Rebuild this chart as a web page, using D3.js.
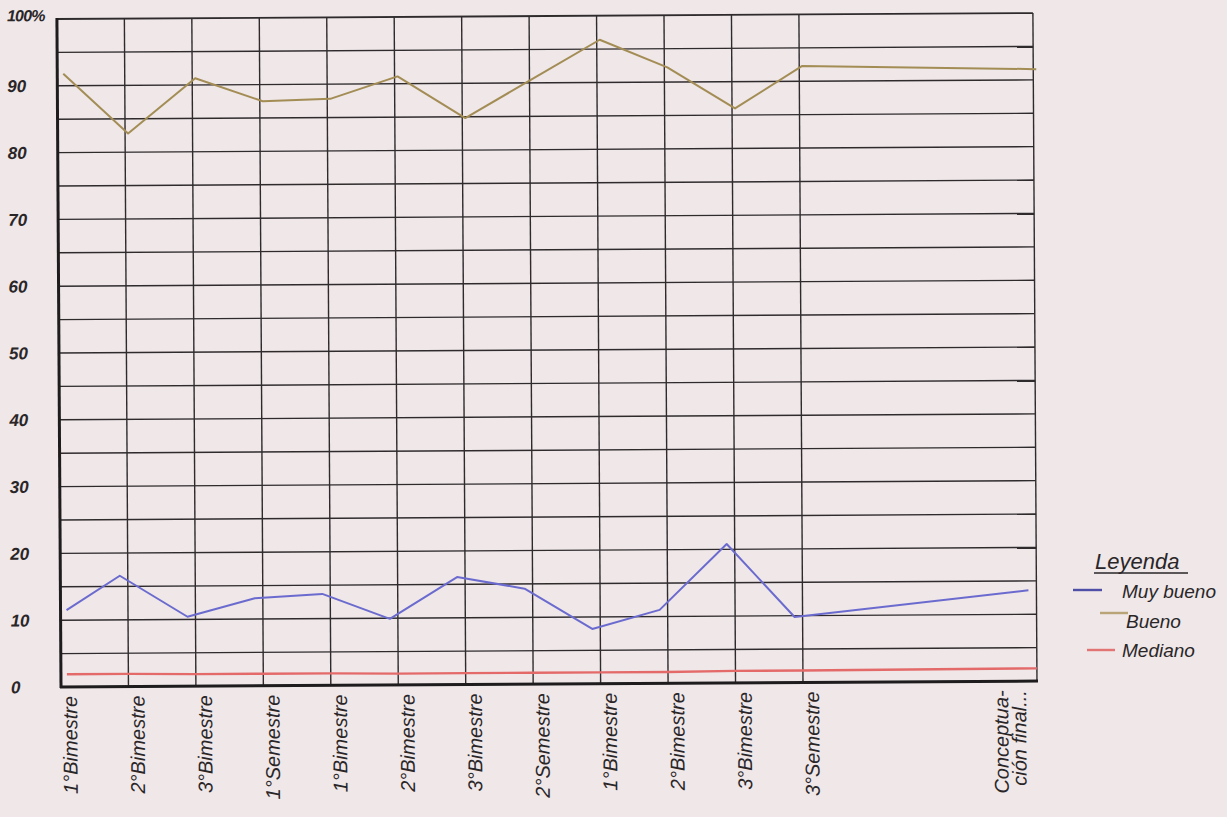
<!DOCTYPE html>
<html><head><meta charset="utf-8">
<script src="https://cdn.jsdelivr.net/npm/d3@7"></script>
<style>body{margin:0;background:#efe7e8;} svg{display:block}</style>
</head><body><svg id="c" width="1227" height="817"></svg>
<script>
// ---- data ----
const categories = ["1°Bimestre","2°Bimestre","3°Bimestre","1°Semestre","1°Bimestre","2°Bimestre","3°Bimestre","2°Semestre","1°Bimestre","2°Bimestre","3°Bimestre","3°Semestre","Conceptua-|ción final..."];
const muyBueno = [11.5,16.6,10.4,13.1,13.7,9.9,16.1,14.3,8.2,11.0,20.8,9.8,13.6];
const bueno    = [91.8,82.8,91.0,87.5,87.8,91.1,84.8,90.6,96.4,92.2,86.0,92.3,91.6];
const mediano  = [1.9,1.9,1.8,1.8,1.8,1.7,1.7,1.7,1.7,1.7,1.8,1.8,1.9];
const yTicks = [0,10,20,30,40,50,60,70,80,90,100];
const yTickLabels = ["0","10","20","30","40","50","60","70","80","90","100%"];
const gridStep = 5;
const seriesNames = ["Muy bueno","Bueno","Mediano"];
const seriesColors = ["#6b6bcf","#a38d55","#e46a6a"];
const legendColors = ["#4f4fa8","#b9a477","#e37474"];
const legendTitle = "Leyenda";

// ---- layout ----
const L = 61, R = 1037, T = 19, B = 687;
const nReg = 12;
const colW = (803 - 61) / 11;
const lastPos = (R - L) / colW;
const x = d3.scaleLinear().domain([0, lastPos]).range([L, R]);
const y = d3.scaleLinear().domain([0, 100]).range([B, T]);
const posOf = i => i < nReg ? i : lastPos;

const svg = d3.select("#c");
const font = "'Liberation Sans', sans-serif";
const g = svg.append("g").attr("transform", `rotate(-0.35, ${L}, ${B})`);

// grid
const gridVals = d3.range(0, 100 + gridStep, gridStep);
g.append("g").selectAll("line").data(gridVals).join("line")
  .attr("x1", L).attr("x2", R).attr("y1", d => y(d)).attr("y2", d => y(d))
  .attr("stroke", "#2f2b2d").attr("stroke-width", d => d === 100 ? 1.8 : 1.4);
const vPos = d3.range(1, nReg).concat([lastPos]);
g.append("g").selectAll("line").data(vPos).join("line")
  .attr("x1", d => x(d)).attr("x2", d => x(d)).attr("y1", T).attr("y2", B)
  .attr("stroke", "#2f2b2d").attr("stroke-width", 1.4);
// axes
g.append("line").attr("x1", L).attr("x2", L).attr("y1", T - 1).attr("y2", B + 1)
  .attr("stroke", "#1e1c1d").attr("stroke-width", 3);
g.append("line").attr("x1", L - 1).attr("x2", R + 1).attr("y1", B).attr("y2", B)
  .attr("stroke", "#1e1c1d").attr("stroke-width", 3);

// y tick labels
g.append("g").selectAll("text").data(yTicks).join("text")
  .attr("x", 11).attr("y", (d, i) => y(d) + (d === 100 ? 2 : 6))
  .attr("font-family", font).attr("font-style", "italic").attr("font-weight", "bold")
  .attr("font-size", d => d === 100 ? 16 : 17).attr("fill", "#2a2628")
  .attr("letter-spacing", d => d === 100 ? -0.8 : 0)
  .text((d, i) => yTickLabels[i]);

// x labels
const xl = g.append("g");
categories.forEach((c, i) => {
  const lines = c.split("|");
  const bx = i < nReg ? x(i) + 16 : x(lastPos) - 11 - (lines.length - 1) * 18;
  const t = xl.append("text")
    .attr("transform", `translate(${bx}, ${B + 9}) rotate(-90)`)
    .attr("text-anchor", "end")
    .attr("font-family", font).attr("font-style", "italic")
    .attr("font-size", 20).attr("fill", "#2a2628");
  lines.forEach((ln, k) => {
    t.append("tspan").attr("x", 0).attr("dy", k === 0 ? 0 : 18).text(ln);
  });
});

// series
const seriesData = [muyBueno, bueno, mediano];
const seriesDx = [-8, 3, 0];
seriesData.forEach((vals, s) => {
  const line = d3.line()
    .x((d, i) => Math.max(L + 6, x(posOf(i)) + seriesDx[s]))
    .y(d => y(d));
  g.append("path").datum(vals).attr("d", line)
    .attr("fill", "none").attr("stroke", seriesColors[s])
    .attr("stroke-width", s === 2 ? 2.4 : 2).attr("stroke-linejoin", "round");
});

// legend
const lg = svg.append("g");
lg.append("text").attr("x", 1095).attr("y", 569)
  .attr("font-family", font).attr("font-style", "italic").attr("font-size", 22)
  .attr("fill", "#2a2628").text(legendTitle);
lg.append("line").attr("x1", 1094).attr("x2", 1188).attr("y1", 573).attr("y2", 573)
  .attr("stroke", "#2a2628").attr("stroke-width", 1.6);
const legItems = [
  {lx1: 1073, lx2: 1102, ly: 590, tx: 1122, ty: 598},
  {lx1: 1100, lx2: 1128, ly: 613, tx: 1126, ty: 628},
  {lx1: 1087, lx2: 1115, ly: 650, tx: 1122, ty: 657}
];
legItems.forEach((it, i) => {
  lg.append("line").attr("x1", it.lx1).attr("x2", it.lx2).attr("y1", it.ly).attr("y2", it.ly)
    .attr("stroke", legendColors[i]).attr("stroke-width", 2.4);
  lg.append("text").attr("x", it.tx).attr("y", it.ty)
    .attr("font-family", font).attr("font-style", "italic").attr("font-size", 19)
    .attr("fill", "#2a2628").text(seriesNames[i]);
});
</script></body></html>
